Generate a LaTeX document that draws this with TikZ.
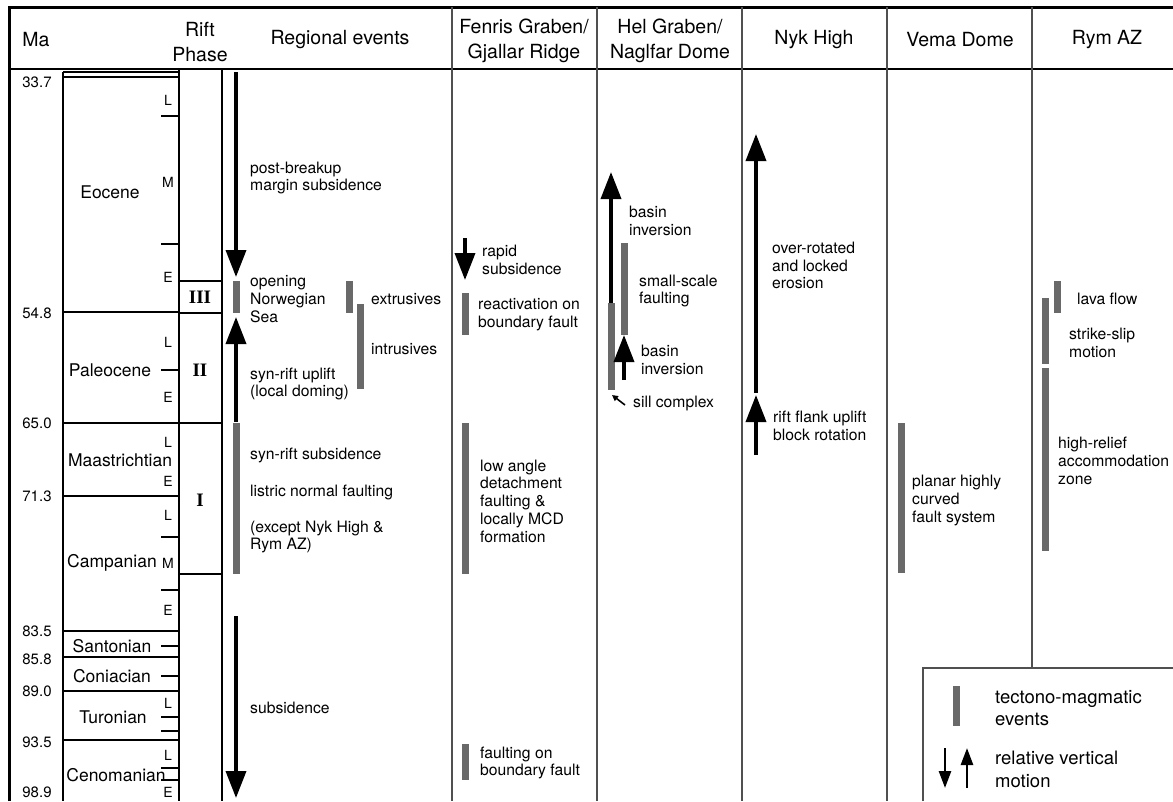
\documentclass[tikz,border=0pt]{standalone}
\usepackage{fontspec}
\setmainfont{TeX Gyre Heros}
\newfontfamily\romfont{Liberation Serif}
\usetikzlibrary{arrows.meta}

\definecolor{evgray}{RGB}{105,105,105}
\definecolor{rulegray}{RGB}{80,80,80}

\tikzset{
	hdr/.style={font=\fontsize{19.5}{25.5}\selectfont, align=center, inner sep=0pt},
	age/.style={font=\fontsize{15}{17}\selectfont, inner sep=0pt},
	stage/.style={font=\fontsize{17.5}{20}\selectfont, inner sep=0pt},
	sub/.style={font=\fontsize{14}{16}\selectfont, inner sep=0pt},
	rom/.style={font=\romfont\bfseries\fontsize{19}{20}\selectfont, inner sep=0pt},
	txt/.style={font=\fontsize{15.7}{17.8}\selectfont, align=left, anchor=west, inner sep=0pt},
	legtxt/.style={font=\fontsize{18.5}{22.5}\selectfont, align=left, anchor=west, inner sep=0pt},
	event/.style={fill=evgray},
	motion/.style={line width=3.6pt, -{Triangle[length=27pt, width=20pt]}},
	legmotion/.style={line width=2.6pt, -{Triangle[length=17pt, width=12pt]}},
	pointer/.style={line width=1.6pt, -{Triangle[length=6pt, width=6pt]}},
	colrule/.style={rulegray, line width=1.4pt},
	stagerule/.style={line width=1.4pt},
}

\begin{document}
\begin{tikzpicture}[x=1pt, y=-1pt]
	\useasboundingbox (0,0) rectangle (1173,801);

	% Frame
	\draw[line width=3pt] (9,801) -- (9,7) -- (1173,7);
	\draw[line width=2.5pt] (9,69) -- (1173,69);
	\foreach \x in {452, 597, 742, 887}
		\draw[colrule] (\x,7) -- (\x,801);
	\draw[colrule] (1032,7) -- (1032,668);
	\draw[stagerule] (179,69) -- (179,801);
	\draw[stagerule] (222,69) -- (222,801);
	\draw[stagerule] (63,72) -- (63,801);

	% Headers
	\node[hdr] (ma)   at (36,40)   {Ma};
	\node[hdr] (rift) at (200,42)  {Rift\\Phase};
	\node[hdr] (reg)  at (340,40)  {Regional events};
	\node[hdr] (fen)  at (524,41)  {Fenris Graben/\\Gjallar Ridge};
	\node[hdr] (hel)  at (670,41)  {Hel Graben/\\Naglfar Dome};
	\node[hdr] (nyk)  at (814,40)  {Nyk High};
	\node[hdr] (vema) at (960,40)  {Vema Dome};
	\node[hdr] (rym)  at (1107,40) {Rym AZ};

	% Time scale
	\foreach \y in {72, 77, 312, 496, 631, 657, 691, 740}
		\draw[stagerule] (63,\y) -- (179,\y);
	\draw[stagerule] (63,423) -- (222,423);
	\foreach \y in {281, 313, 574}
		\draw[stagerule] (179,\y) -- (222,\y);
	\foreach \y in {116, 244, 370, 537, 590, 646, 676, 717, 731, 768, 780}
		\draw[stagerule] (161,\y) -- (179,\y);
	\foreach \a/\y [count=\i] in {33.7/82, 54.8/313, 65.0/423, 71.3/496, 83.5/631, 85.8/659, 89.0/691, 93.5/742, 98.9/792}
		\node[age] (age\i) at (37,\y) {\a};
	\node[stage] (eoc)  at (110,192) {Eocene};
	\node[stage] (pal)  at (110,370) {Paleocene};
	\node[stage] (maa)  at (120,460) {Maastrichtian};
	\node[stage] (cam)  at (112,563) {Campanian};
	\node[stage] (san)  at (112,646) {Santonian};
	\node[stage] (con)  at (112,676) {Coniacian};
	\node[stage] (tur)  at (113,717) {Turonian};
	\node[stage] (cen)  at (116,775) {Cenomanian};
	\foreach \s/\y [count=\i] in {L/100, M/182, E/277, L/342, E/397, L/442, E/481, L/515, M/563, E/610, L/703, L/755, E/792}
		\node[sub] (sub\i) at (168,\y) {\s};
	\node[rom] (ph3) at (200,297) {III};
	\node[rom] (ph2) at (200,370) {II};
	\node[rom] (ph1) at (200,500) {I};

	% Tectono-magmatic events
	\foreach \x/\ya/\yb in {236/281/313, 349/281/313, 360/304/389, 236/423/574,
			465/293/335, 465/423/574, 465/744/780, 611/303/390, 624/243/335,
			901/423/573, 1057/281/313, 1045/298/364, 1045/368/551, 956/686/726}
		\fill[event] (\x-3.5,\ya) rectangle (\x+3.5,\yb);

	% Vertical motion
	\draw[motion] (236,72) -- (236,277);
	\draw[motion] (236,422) -- (236,317);
	\draw[motion] (236,616) -- (236,798);
	\draw[motion] (465,238) -- (465,280);
	\draw[motion] (611,303) -- (611,172);
	\draw[motion] (624,380) -- (624,335);
	\draw[motion] (756,393) -- (756,134);
	\draw[motion] (756,455) -- (756,395);
	\draw[pointer] (625,405) -- (612,395);

	% Regional events
	\node[txt] (post)    at (250,178) {post-breakup\\margin subsidence};
	\node[txt] (open)    at (250,299) {opening\\Norwegian\\Sea};
	\node[txt] (extr)    at (371,299) {extrusives};
	\node[txt] (intr)    at (371,349) {intrusives};
	\node[txt] (uplift)  at (250,384) {syn-rift uplift\\(local doming)};
	\node[txt] (synsub)  at (250,455) {syn-rift subsidence};
	\node[txt] (listric) at (250,492) {listric normal faulting};
	\node[txt] (except)  at (250,537) {(except Nyk High \&\\Rym AZ)};
	\node[txt] (subs)    at (250,708) {subsidence};

	% Fenris Graben / Gjallar Ridge
	\node[txt] (rapid)  at (482,260)   {rapid\\subsidence};
	\node[txt] (react)  at (478,314.5) {reactivation on\\boundary fault};
	\node[txt] (detach) at (480,501)   {low angle\\detachment\\faulting \&\\locally MCD\\formation};
	\node[txt] (bound)  at (480,763)   {faulting on\\boundary fault};

	% Hel Graben / Naglfar Dome
	\node[txt] (inv1)  at (629,221)   {basin\\inversion};
	\node[txt] (small) at (639,291)   {small-scale\\faulting};
	\node[txt] (inv2)  at (641,359.5) {basin\\inversion};
	\node[txt] (sill)  at (633,403)   {sill complex};

	% Nyk High
	\node[txt] (over)  at (772,265.5) {over-rotated\\and locked\\erosion};
	\node[txt] (flank) at (773,426)   {rift flank uplift\\block rotation};

	% Vema Dome
	\node[txt] (planar) at (912,500.5) {planar highly\\curved\\fault system};

	% Rym AZ
	\node[txt] (lava)   at (1077,299) {lava flow};
	\node[txt] (strike) at (1069,343) {strike-slip\\motion};
	\node[txt] (relief) at (1058,461) {high-relief\\accommodation\\zone};

	% Legend
	\draw[colrule] (923,801) -- (923,668) -- (1173,668);
	\draw[legmotion] (945,748) -- (945,788);
	\draw[legmotion] (967,788) -- (967,748);
	\node[legtxt] (legev)  at (995,708)   {tectono-magmatic\\events};
	\node[legtxt] (legmot) at (995,769.5) {relative vertical\\motion};
\end{tikzpicture}
\end{document}
